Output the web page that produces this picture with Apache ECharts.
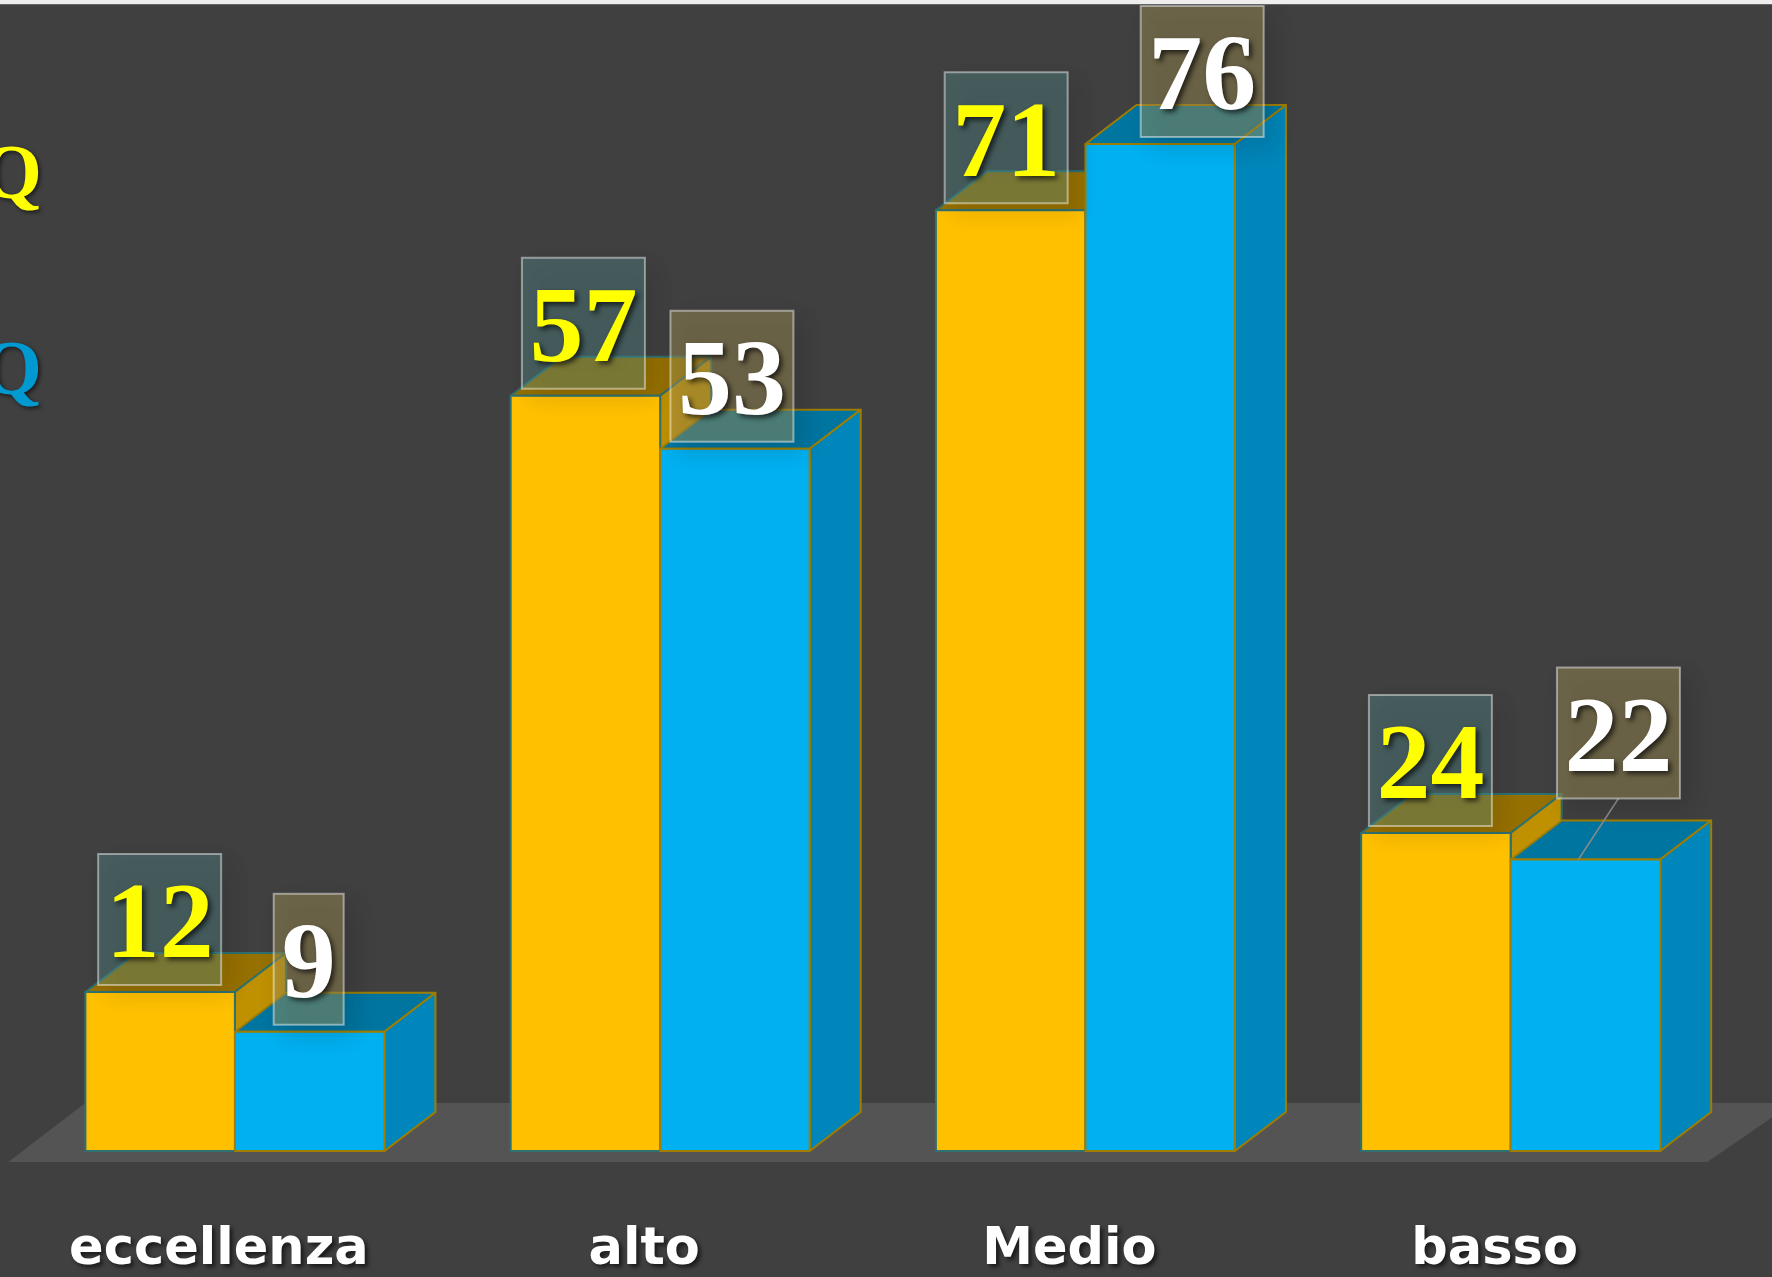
<!DOCTYPE html>
<html>
<head>
<meta charset="utf-8">
<style>html,body{margin:0;padding:0;background:#404040;overflow:hidden}#c{width:1772px;height:1277px}</style>
<script src="https://cdn.jsdelivr.net/npm/echarts@6/dist/echarts.min.js"></script>
</head>
<body>
<div id="c"></div>
<script>
const categories = ['eccellenza', 'alto', 'Medio', 'basso'];
const seriesA = [12, 57, 71, 24];
const seriesB = [9, 53, 76, 22];

// label box nudges (layout only, in px relative to the bar's front face)
const shiftA = [-0.5, -2, -4.5, -5.5];
const shiftB = [-1, -3, 42, 33];
const liftA = [0, 0, 0, 0];
const liftB = [0, 0, 0, 54];
const leaderA = [0, 0, 0, 0];
const leaderB = [0, 0, 0, 1];

const DX = 51, DY = 39, BAR_RATIO = 0.3516, BOX_H = 131, BOX_GAP = 7;

const styleA = {
  front: '#FFC000', top: '#967000', side: '#BF9000', border: '#2F7070',
  boxFill: 'rgba(88,155,157,0.33)', textFill: '#FFFF00'
};
const styleB = {
  front: '#00B0F0', top: '#0075A0', side: '#0086BA', border: '#A07D00',
  boxFill: 'rgba(167,149,87,0.45)', textFill: '#FFFFFF'
};

function barItem(st, first) {
  return function (params, api) {
    const c = api.coord([api.value(0), api.value(1)]);
    const b = api.coord([api.value(0), 0]);
    const w = api.size([1, 0])[0] * BAR_RATIO;
    const x0 = first ? c[0] - w : c[0];
    const x1 = x0 + w, yt = c[1], yb = b[1];
    const line = { stroke: st.border, lineWidth: 2, lineJoin: 'round' };
    const poly = (pts, fill) => ({
      type: 'polygon', shape: { points: pts }, style: Object.assign({ fill }, line)
    });
    return {
      type: 'group',
      children: [
        poly([[x0, yt], [x0 + DX, yt - DY], [x1 + DX, yt - DY], [x1, yt]], st.top),
        poly([[x1, yt], [x1 + DX, yt - DY], [x1 + DX, yb - DY], [x1, yb]], st.side),
        poly([[x0, yt], [x1, yt], [x1, yb], [x0, yb]], st.front)
      ]
    };
  };
}

function labelItem(st, first, shifts, lifts, leaders) {
  return function (params, api) {
    const idx = params.dataIndex;
    const val = api.value(1);
    const c = api.coord([api.value(0), val]);
    const w = api.size([1, 0])[0] * BAR_RATIO;
    const cx = (first ? c[0] - w / 2 : c[0] + w / 2);
    const bx = cx + shifts[idx];
    const bw = String(val).length === 1 ? 70 : 123;
    const bt = c[1] - BOX_GAP - BOX_H - lifts[idx];
    const children = [];
    if (leaders[idx]) {
      children.push({
        type: 'line',
        shape: { x1: bx, y1: bt + BOX_H, x2: cx - 7, y2: c[1] },
        style: { stroke: '#8A8A8A', lineWidth: 1.5 }
      });
    }
    children.push({
      type: 'rect',
      shape: { x: bx - bw / 2, y: bt, width: bw, height: BOX_H },
      style: {
        fill: st.boxFill, stroke: 'rgba(255,255,255,0.45)', lineWidth: 2,
        shadowColor: 'rgba(0,0,0,0.28)', shadowBlur: 22, shadowOffsetX: 9, shadowOffsetY: 9
      }
    });
    children.push({
      type: 'text',
      style: {
        x: bx, y: bt + BOX_H / 2 + 10, text: String(val), align: 'center', verticalAlign: 'middle',
        fill: st.textFill, font: 'bold 108px "Liberation Serif", serif',
        textShadowColor: 'rgba(0,0,0,0.65)', textShadowBlur: 5, textShadowOffsetX: 3, textShadowOffsetY: 3
      }
    });
    return { type: 'group', children };
  };
}

function floorItem(params, api) {
  const base = api.coord([0, 0])[1];
  const g = params.coordSys;
  const fy = base + 11, by = base - 48;
  return {
    type: 'polygon',
    shape: { points: [[g.x - 14, fy], [g.x + 63, by], [g.x + g.width + 70, by], [g.x + g.width - 16, fy]] },
    style: { fill: '#545454' }
  };
}

const chart = echarts.init(document.getElementById('c'), null, { renderer: 'canvas' });
chart.setOption({
  animation: false,
  backgroundColor: '#404040',
  grid: { left: 22.3, width: 1701, top: 91, height: 1060 },
  xAxis: {
    type: 'category', data: categories,
    axisLine: { show: false }, axisTick: { show: false }, splitLine: { show: false },
    axisLabel: {
      show: true, interval: 0, margin: 74, padding: [0, 32, 0, 0],
      color: '#FFFFFF', fontFamily: 'DejaVu Sans', fontWeight: 'bold', fontSize: 51,
      textShadowColor: 'rgba(0,0,0,0.6)', textShadowBlur: 4, textShadowOffsetX: 3, textShadowOffsetY: 3
    }
  },
  yAxis: { type: 'value', min: 0, max: 80, show: false, splitLine: { show: false } },
  series: [
    { type: 'custom', name: 'floor', z: 1, silent: true, renderItem: floorItem, data: [[0, 0]] },
    { type: 'custom', name: 'A', z: 2, renderItem: barItem(styleA, true), data: seriesA.map((v, i) => [i, v]) },
    { type: 'custom', name: 'B', z: 3, renderItem: barItem(styleB, false), data: seriesB.map((v, i) => [i, v]) },
    { type: 'custom', name: 'A labels', z: 4, renderItem: labelItem(styleA, true, shiftA, liftA, leaderA), data: seriesA.map((v, i) => [i, v]) },
    { type: 'custom', name: 'B labels', z: 5, renderItem: labelItem(styleB, false, shiftB, liftB, leaderB), data: seriesB.map((v, i) => [i, v]) }
  ],
  graphic: [
    { type: 'rect', z: 10, shape: { x: 0, y: 0, width: 1772, height: 4 }, style: { fill: '#EEEEEE' } },
    { type: 'rect', z: 10, shape: { x: 0, y: 4, width: 1772, height: 1 }, style: { fill: '#666666' } },
    { type: 'text', z: 10, style: { x: 42, y: 178, text: 'Q', align: 'right', verticalAlign: 'middle', fill: '#FFFF00',
      font: 'bold 78px "Liberation Serif", serif', textShadowColor: 'rgba(0,0,0,0.6)', textShadowBlur: 4, textShadowOffsetX: 2, textShadowOffsetY: 2 } },
    { type: 'text', z: 10, style: { x: 42, y: 374, text: 'Q', align: 'right', verticalAlign: 'middle', fill: '#0099D0',
      font: 'bold 78px "Liberation Serif", serif', textShadowColor: 'rgba(0,0,0,0.6)', textShadowBlur: 4, textShadowOffsetX: 2, textShadowOffsetY: 2 } }
  ]
});
</script>
</body>
</html>
